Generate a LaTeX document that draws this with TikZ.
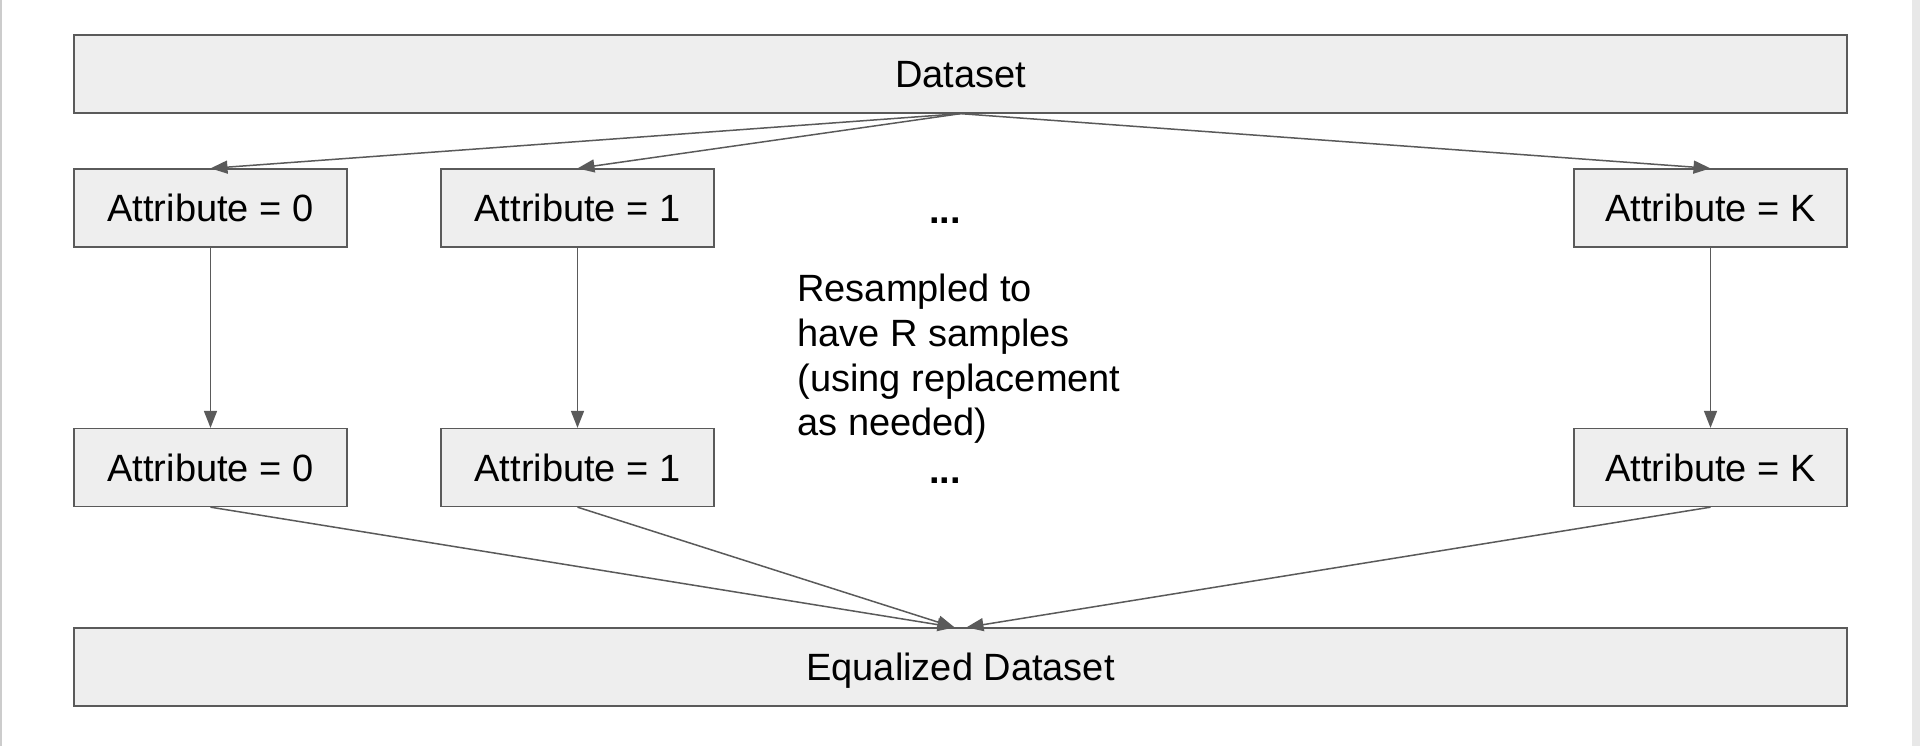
\documentclass[tikz,border=0pt]{standalone}
\usepackage{fontspec}
\setmainfont{Liberation Sans}
\usetikzlibrary{arrows.meta,calc}
\definecolor{BoxClr}{RGB}{238,238,238}
\definecolor{LineClr}{RGB}{90,90,90}
\definecolor{EdgeClr}{RGB}{204,204,204}
\definecolor{BandClr}{RGB}{232,232,232}

\begin{document}
\begin{tikzpicture}[x=0.5pt,y=-0.5pt]
\tikzset{box/.style={draw=LineClr,fill=BoxClr,line width=0.65pt,inner sep=0pt,
    minimum height=39pt,text height=13.6pt,text depth=0pt,
    font=\fontsize{19}{22.3}\selectfont},
  wide/.style={box,minimum width=886.5pt},
  attr/.style={box,minimum width=136.5pt},
  flow/.style={draw=LineClr,line width=0.75pt,-{Triangle[length=8.5pt,width=6.5pt]}}}

\useasboundingbox[fill=white] (0,0) rectangle (1920,746);
\fill[EdgeClr] (0,0) rectangle (1.6,746);
\fill[BandClr] (1912,0) rectangle (1920,746);

\node[wide] (ds) at (960.5,74) {Dataset};

\node[attr] (a0) at (210.5,208) {Attribute = 0};
\node[attr] (a1) at (577.5,208) {Attribute = 1};
\node[attr] (aK) at (1710.5,208) {Attribute = K};

\node[attr] (b0) at (210.5,467.5) {Attribute = 0};
\node[attr] (b1) at (577.5,467.5) {Attribute = 1};
\node[attr] (bK) at (1710.5,467.5) {Attribute = K};

\node[wide] (eq) at (960.5,667) {Equalized Dataset};

\node[anchor=base,inner sep=0pt,font=\fontsize{19}{22.3}\selectfont\bfseries] (dotsA) at (945,223) {...};
\node[anchor=base,inner sep=0pt,font=\fontsize{19}{22.3}\selectfont\bfseries] (dotsB) at (945,483) {...};
\node[anchor=west,inner sep=0pt,align=left,font=\fontsize{19}{22.3}\selectfont] (note) at (797,359)
  {Resampled to\\have R samples\\(using replacement\\as needed)};

\coordinate (eqL) at ($(eq.north)+(-6,0)$);
\coordinate (eqR) at ($(eq.north)+(6,0)$);

\draw[flow] (ds.south) -- (a0.north);
\draw[flow] (ds.south) -- (a1.north);
\draw[flow] (ds.south) -- (aK.north);

\draw[flow] (a0) -- (b0);
\draw[flow] (a1) -- (b1);
\draw[flow] (aK) -- (bK);

\draw[flow] (b0.south) -- (eqL);
\draw[flow] (b1.south) -- (eqL);
\draw[flow] (bK.south) -- (eqR);

\end{tikzpicture}
\end{document}
